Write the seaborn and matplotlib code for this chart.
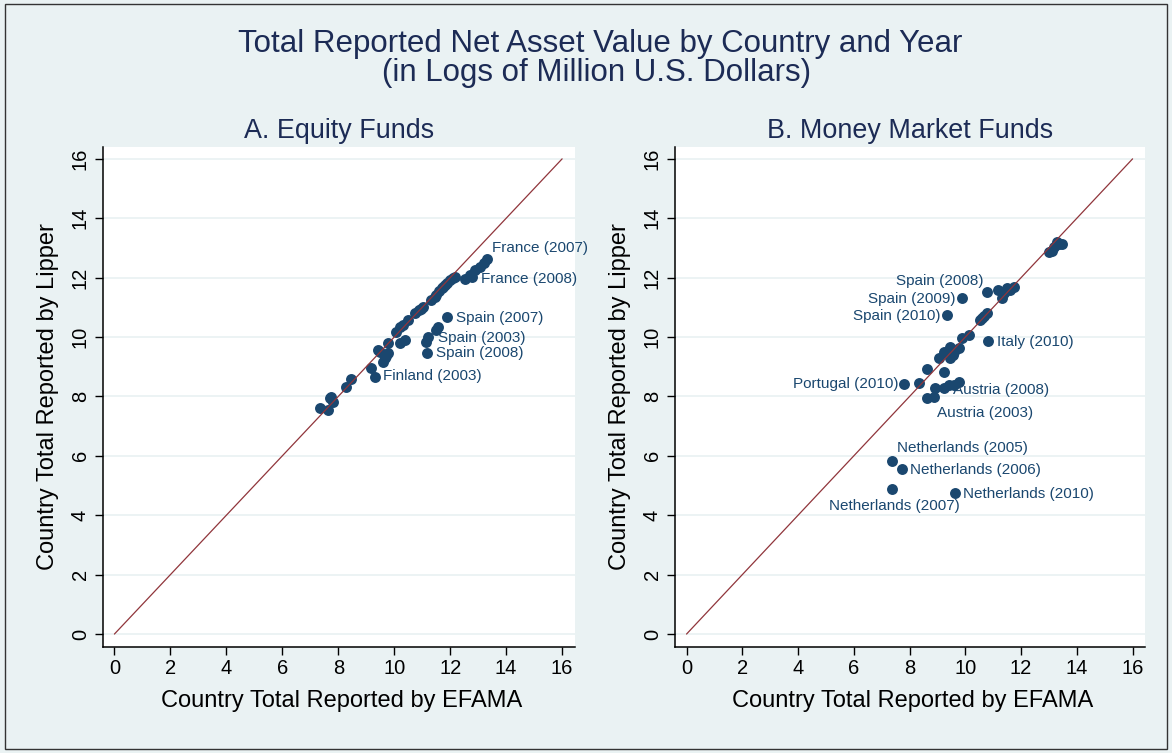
import matplotlib
matplotlib.use("Agg")
import matplotlib.pyplot as plt
import seaborn as sns
import pandas as pd
from matplotlib.patches import Rectangle

# ---------------- data ----------------
# Equity funds (EFAMA log value, Lipper log value)
eq_efama = [7.33, 7.63, 7.69, 7.81, 7.75, 8.29, 8.47, 9.18, 9.42, 9.60, 9.72,
            9.78, 9.66, 9.78, 10.08, 10.20, 10.38, 10.20, 10.30, 10.48, 10.73,
            10.90, 11.03, 11.33, 11.45, 11.51, 11.60, 11.69, 11.81, 11.90, 11.99,
            12.10, 12.17, 12.53, 12.71, 12.89, 13.06, 13.20, 11.13, 11.57, 11.50,
            9.50, 10.95, 11.75]
eq_lipper = [7.62, 7.54, 7.94, 7.82, 7.98, 8.31, 8.59, 8.95, 9.55, 9.17, 9.35,
             9.45, 9.28, 9.79, 10.18, 9.79, 9.90, 10.35, 10.40, 10.57, 10.82,
             10.92, 11.02, 11.25, 11.35, 11.41, 11.55, 11.64, 11.75, 11.82, 11.92,
             12.00, 12.03, 11.94, 12.09, 12.26, 12.37, 12.50, 9.84, 10.35, 10.25,
             9.50, 10.95, 11.70]
eq_lab_names = ["France (2007)", "France (2008)", "Spain (2007)", "Spain (2003)",
                "Spain (2008)", "Finland (2003)"]
eq_lab_efama = [13.30, 12.77, 11.87, 11.21, 11.17, 9.30]
eq_lab_lipper = [12.62, 12.03, 10.68, 10.01, 9.48, 8.66]

# Money market funds
mm_efama = [12.99, 13.10, 13.17, 13.29, 13.47, 13.35, 11.19, 11.31, 11.40, 11.49,
            11.61, 11.73, 10.78, 10.60, 10.54, 10.68, 10.12, 9.88, 9.46, 9.22,
            9.04, 9.76, 9.46, 9.34, 9.60, 9.55, 8.63, 9.25, 8.33, 8.92, 9.22,
            9.76, 9.58, 8.63]
mm_lipper = [12.87, 12.90, 13.04, 13.21, 13.15, 13.12, 11.58, 11.30, 11.50, 11.64,
             11.60, 11.69, 10.80, 10.63, 10.58, 10.72, 10.07, 9.96, 9.67, 9.50,
             9.28, 9.62, 9.28, 9.45, 9.50, 9.40, 8.92, 8.81, 8.46, 8.27, 8.27,
             8.50, 8.40, 7.94]
mm_lab_names = ["Spain (2008)", "Spain (2009)", "Spain (2010)", "Italy (2010)",
                "Portugal (2010)", "Austria (2008)", "Austria (2003)",
                "Netherlands (2005)", "Netherlands (2006)", "Netherlands (2007)",
                "Netherlands (2010)"]
mm_lab_efama = [10.78, 9.88, 9.34, 10.80, 7.81, 9.40, 8.86, 7.37, 7.73, 7.37, 9.64]
mm_lab_lipper = [11.53, 11.30, 10.74, 9.88, 8.42, 8.38, 7.99, 5.84, 5.55, 4.87, 4.74]

ticks = [0, 2, 4, 6, 8, 10, 12, 14, 16]
panel_titles = ["A. Equity Funds", "B. Money Market Funds"]
x_label = "Country Total Reported by EFAMA"
y_label = "Country Total Reported by Lipper"
title_lines = ["Total Reported Net Asset Value by Country and Year",
               "(in Logs of Million U.S. Dollars)"]

# ---------------- style ----------------
BG = "#EAF2F3"
NAVY = "#1A476F"
MAROON = "#90353B"
TITLE_C = "#1C2B55"
FONT = ["Liberation Sans", "DejaVu Sans"]

# label offsets (points) and alignment
eq_lab_style = {
    "France (2007)": (3.6, 8.4, "left"),
    "France (2008)": (6.8, -1.5, "left"),
    "Spain (2007)": (6.7, -1.0, "left"),
    "Spain (2003)": (7.0, -1.0, "left"),
    "Spain (2008)": (6.2, -0.7, "left"),
    "Finland (2003)": (6.0, 0.5, "left"),
}
mm_lab_style = {
    "Spain (2008)": (-2.7, 7.7, "right"),
    "Spain (2009)": (-4.8, -0.5, "right"),
    "Spain (2010)": (-4.8, -0.7, "right"),
    "Italy (2010)": (6.8, -1.0, "left"),
    "Portugal (2010)": (-4.1, -0.2, "right"),
    "Austria (2008)": (3.4, -3.6, "left"),
    "Austria (2003)": (2.7, -11.5, "left"),
    "Netherlands (2005)": (3.6, 9.1, "left"),
    "Netherlands (2006)": (6.0, -0.5, "left"),
    "Netherlands (2007)": (2.0, -12.0, "center"),
    "Netherlands (2010)": (5.8, -0.5, "left"),
}

sns.set_theme(style="white")
plt.rcParams["font.family"] = FONT

fig = plt.figure(figsize=(11.72, 7.53), dpi=100)
fig.patch.set_facecolor(BG)
fig.patches.append(Rectangle((5 / 1172, 4 / 753), 1 - 10 / 1172, 1 - 8 / 753,
                             transform=fig.transFigure, fill=False,
                             edgecolor="#333333", linewidth=1.0))

axA = fig.add_axes([0.0876, 0.1414, 0.403, 0.6638])
axB = fig.add_axes([0.5758, 0.1414, 0.4015, 0.6638])

panels = [
    (axA, eq_efama + eq_lab_efama, eq_lipper + eq_lab_lipper,
     eq_lab_names, eq_lab_efama, eq_lab_lipper, eq_lab_style, panel_titles[0]),
    (axB, mm_efama + mm_lab_efama, mm_lipper + mm_lab_lipper,
     mm_lab_names, mm_lab_efama, mm_lab_lipper, mm_lab_style, panel_titles[1]),
]

for ax, xs, ys, names, lx, ly, lstyle, ttl in panels:
    ax.set_facecolor("white")
    for t in ticks:
        ax.axhline(t, color=BG, lw=1.3, zorder=0)
    df = pd.DataFrame({"efama": xs, "lipper": ys})
    sns.scatterplot(data=df, x="efama", y="lipper", ax=ax, color=NAVY,
                    s=62, linewidth=0, zorder=3)
    sns.lineplot(x=[0, 16], y=[0, 16], ax=ax, color=MAROON, lw=0.9, zorder=4)
    for n, px, py in zip(names, lx, ly):
        dx, dy, ha = lstyle[n]
        ax.annotate(n, (px, py), xytext=(dx, dy), textcoords="offset points",
                    ha=ha, va="center", fontsize=11, color=NAVY, zorder=5)
    ax.set_xlim(-0.42, 16.46)
    ax.set_ylim(-0.42, 16.41)
    ax.set_xticks(ticks)
    ax.set_yticks(ticks)
    ax.set_xticklabels([str(t) for t in ticks])
    ax.set_yticklabels([str(t) for t in ticks], rotation=90, va="center")
    for side in ["top", "right"]:
        ax.spines[side].set_visible(False)
    for side in ["left", "bottom"]:
        ax.spines[side].set_color("black")
        ax.spines[side].set_linewidth(1.1)
    ax.tick_params(axis="both", which="major", direction="out", length=5.8,
                   width=1.0, color="black", labelsize=14.5, labelcolor="black",
                   left=True, bottom=True)
    ax.tick_params(axis="x", pad=3.5)
    ax.tick_params(axis="y", pad=3.5)
    ax.set_xlabel(x_label, fontsize=17, color="black")
    ax.set_ylabel(y_label, fontsize=17, color="black")
    ax.xaxis.label.set_verticalalignment("center")
    ax.yaxis.label.set_verticalalignment("center")
    ax.xaxis.set_label_coords(0.505, -0.109)
    ax.yaxis.set_label_coords(-0.116, 0.5)
    ax.set_title(ttl, fontsize=19.4, color=TITLE_C, pad=6.3)
    ax.grid(False)

fig.text(600 / 1172, 1 - 52 / 753, title_lines[0], ha="center", va="baseline",
         fontsize=22.5, color=TITLE_C)
fig.text(597 / 1172, 1 - 81 / 753, title_lines[1], ha="center", va="baseline",
         fontsize=22.5, color=TITLE_C)

fig.savefig("out.png", dpi=100, facecolor=BG)
